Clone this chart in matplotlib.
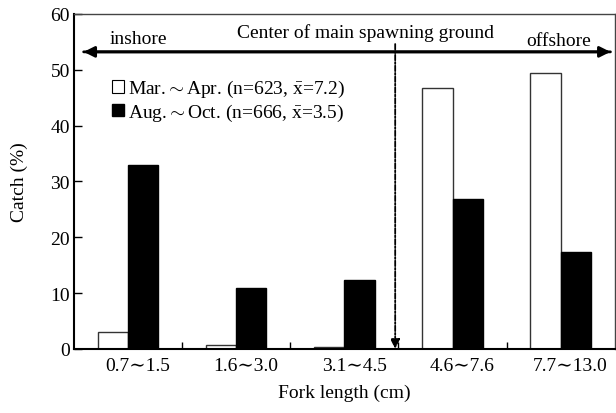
import numpy as np
import matplotlib
matplotlib.use("Agg")
import matplotlib.pyplot as plt
from matplotlib.patches import Patch

plt.rcParams['font.family'] = ['Liberation Serif', 'DejaVu Serif']
plt.rcParams['mathtext.fontset'] = 'custom'
plt.rcParams['mathtext.rm'] = 'Liberation Serif'
plt.rcParams['mathtext.it'] = 'Liberation Serif:italic'
plt.rcParams['font.size'] = 14

categories = ["0.7\u223c1.5", "1.6\u223c3.0", "3.1\u223c4.5", "4.6\u223c7.6", "7.7\u223c13.0"]
mar_apr = [3.0, 0.6, 0.4, 46.8, 49.4]
aug_oct = [32.9, 10.9, 12.3, 26.8, 17.3]
label_mar = r"Mar.$\sim$Apr. (n=623, $\bar{\mathrm{x}}$=7.2)"
label_aug = r"Aug.$\sim$Oct. (n=666, $\bar{\mathrm{x}}$=3.5)"

fig = plt.figure(figsize=(6.16, 4.14), dpi=100)
ax = fig.add_axes([0.120, 0.155, 0.878, 0.809])

x = np.arange(len(categories))
w = 0.28
ax.bar(x - w / 2, mar_apr, w, color="white", edgecolor="#333333", linewidth=1)
ax.bar(x + w / 2, aug_oct, w, color="black", edgecolor="black", linewidth=1)

ax.set_xlim(-0.5, 4.5)
ax.set_ylim(0, 60)
ax.set_yticks(range(0, 61, 10))
ax.set_xticks([0.5, 1.5, 2.5, 3.5])
ax.set_xticklabels([])
ax.set_xticks(x + 0.09, minor=True)
ax.set_xticklabels(categories, minor=True)
ax.tick_params(axis="x", which="major", direction="in", length=5, width=1)
ax.tick_params(axis="x", which="minor", length=0, pad=6)
ax.tick_params(axis="y", direction="in", length=6, width=1, pad=3)
for s in ["left", "bottom"]:
    ax.spines[s].set_linewidth(1.5)
for s in ["top", "right"]:
    ax.spines[s].set_linewidth(1.0)
    ax.spines[s].set_color("#444444")

ax.set_ylabel("Catch (%)", labelpad=16)
ax.set_xlabel("Fork length (cm)", labelpad=7)

# shore direction arrow
ax.annotate("", xy=(-0.41, 53.2), xytext=(4.46, 53.2),
            arrowprops=dict(arrowstyle="-|>", color="black", lw=2, mutation_scale=16, shrinkA=0, shrinkB=0))
ax.annotate("", xy=(4.46, 53.2), xytext=(-0.41, 53.2),
            arrowprops=dict(arrowstyle="-|>", color="black", lw=2, mutation_scale=16, shrinkA=0, shrinkB=0))
ax.text(-0.17, 54.8, "inshore", ha="left", va="baseline")
ax.text(2.2, 55.9, "Center of main spawning ground", ha="center", va="baseline")
ax.text(3.68, 54.5, "offshore", ha="left", va="baseline")

# spawning ground marker
ax.annotate("", xy=(2.47, 0), xytext=(2.47, 54.6),
            arrowprops=dict(arrowstyle="-|>", color="black", lw=1.3, linestyle=(0, (3, 1, 1, 1)),
                            mutation_scale=14, shrinkA=0, shrinkB=0))

handles = [Patch(facecolor="white", edgecolor="black", linewidth=0.8),
           Patch(facecolor="black", edgecolor="black")]
ax.legend(handles, [label_mar, label_aug], loc="upper left", bbox_to_anchor=(0.071, 0.808),
          frameon=False, handlelength=0.6, handleheight=0.6, handletextpad=0.2,
          labelspacing=0.12, borderaxespad=0, borderpad=0)

fig.savefig("out.png", dpi=100)
